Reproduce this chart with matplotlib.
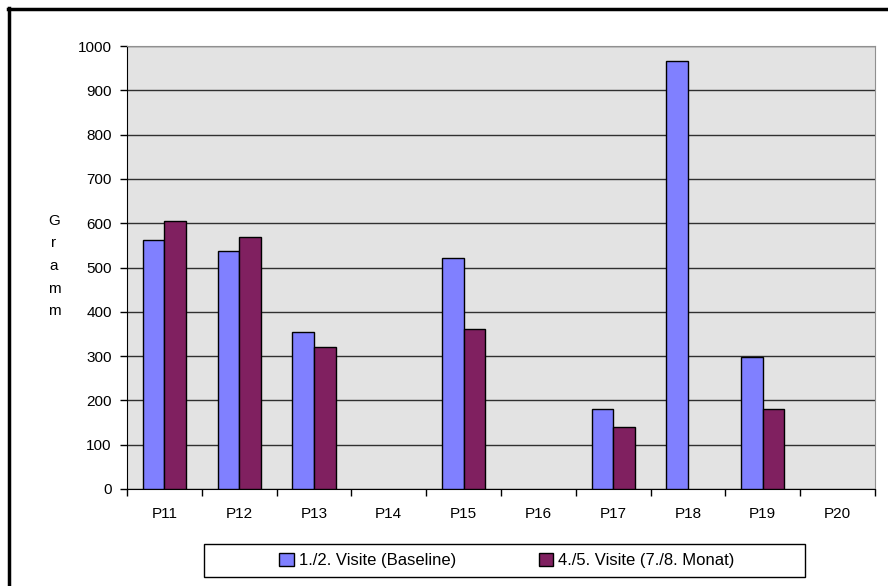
import numpy as np
import matplotlib
matplotlib.use('Agg')
import matplotlib.pyplot as plt
from matplotlib.lines import Line2D
from matplotlib.patches import Rectangle, Patch

plt.rcParams['font.family'] = ['Liberation Sans', 'DejaVu Sans']

# Werte je Patient (nan = kein Wert)
patients = ['P11', 'P12', 'P13', 'P14', 'P15', 'P16', 'P17', 'P18', 'P19', 'P20']
baseline = [562, 538, 354, np.nan, 521, np.nan, 180, 966, 298, np.nan]
monat_7_8 = [605, 569, 320, np.nan, 361, np.nan, 140, np.nan, 180, np.nan]
series_names = ['1./2. Visite (Baseline)', '4./5. Visite (7./8. Monat)']
yticks = [0, 100, 200, 300, 400, 500, 600, 700, 800, 900, 1000]

W, H = 888, 586
fig = plt.figure(figsize=(W / 100, H / 100), dpi=100)
ax = fig.add_axes([127 / W, (H - 489) / H, (875 - 127) / W, (489 - 46) / H])
ax.set_facecolor('#E3E3E3')

x = np.arange(len(patients))
bw = 0.29
ax.bar(x - bw / 2, baseline, bw, color='#8080FF', edgecolor='black', linewidth=1, zorder=3)
ax.bar(x + bw / 2, monat_7_8, bw, color='#802060', edgecolor='black', linewidth=1, zorder=3)

ax.set_xlim(-0.5, len(patients) - 0.5)
ax.set_ylim(0, 1000)
ax.set_yticks(yticks)
ax.yaxis.grid(True, color='#303030', linewidth=1, zorder=1)
ax.tick_params(axis='y', direction='out', length=5, width=1, pad=6, labelsize=11)

# Striche zwischen den Kategorien, Beschriftung in der Mitte
ax.set_xticks(np.arange(-0.5, len(patients), 1))
ax.set_xticklabels([])
ax.set_xticks(x, minor=True)
ax.set_xticklabels(patients, minor=True)
ax.tick_params(axis='x', which='major', direction='out', length=5, width=1)
ax.tick_params(axis='x', which='minor', length=0, pad=13, labelsize=11)

for s in ['left', 'bottom']:
    ax.spines[s].set_color('black')
for s in ['top', 'right']:
    ax.spines[s].set_color('#909090')

fig.text(54 / W, 1 - 266 / H, 'G\nr\na\nm\nm', ha='center', va='center',
         fontsize=11, linespacing=1.78)

# Legende mit eigenem Rahmen
fig.patches.append(Rectangle((204 / W, 1 - 577 / H), (805 - 204) / W, 33 / H,
                             transform=fig.transFigure, fill=False,
                             edgecolor='black', linewidth=1))
handles = [Patch(facecolor='#8080FF', edgecolor='black'),
           Patch(facecolor='#802060', edgecolor='black')]
fig.legend(handles, series_names, loc='center', ncol=2, frameon=False,
           bbox_to_anchor=(507 / W, 1 - 560.5 / H), fontsize=12,
           handlelength=0.85, handleheight=0.85, handletextpad=0.3,
           columnspacing=5.0)

# äußerer Rahmen (nur links und oben sichtbar)
fig.lines.append(Line2D([8.5 / W, 8.5 / W], [1 - 8 / H, 0], transform=fig.transFigure,
                        color='black', linewidth=2.5))
fig.lines.append(Line2D([7.5 / W, 1], [1 - 9 / H, 1 - 9 / H], transform=fig.transFigure,
                        color='black', linewidth=2.5))

fig.savefig('out.png', dpi=100)
